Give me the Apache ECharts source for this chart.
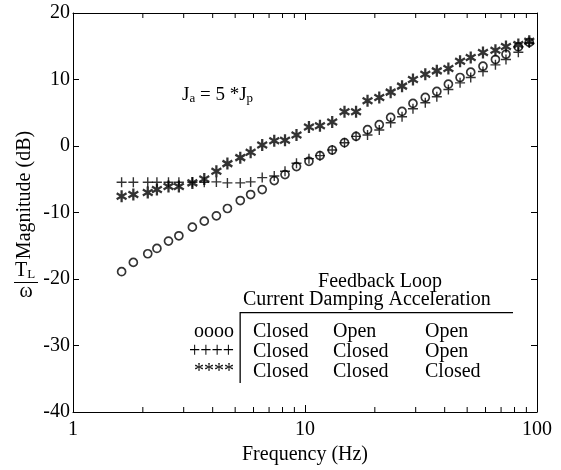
<!DOCTYPE html>
<html>
<head>
<meta charset="utf-8">
<script src="https://cdn.jsdelivr.net/npm/echarts@6/dist/echarts.min.js"></script>
<style>
html,body{margin:0;padding:0;background:#fff;}
#chart{width:561px;height:470px;}
</style>
</head>
<body>
<div id="chart"></div>
<script>
// Frequencies (Hz) shared by all three measured curves
const freq = [1.62, 1.82, 2.1, 2.3, 2.58, 2.86, 3.27, 3.68, 4.15, 4.63, 5.26, 5.83, 6.54, 7.37, 8.2, 9.19, 10.4, 11.6, 13.1, 14.8, 16.6, 18.6, 20.9, 23.4, 26.2, 29.2, 33, 37, 41.5, 46.6, 51.8, 58.5, 66.2, 73.5, 83.1, 92.6];
// oooo : Current closed, Damping open, Acceleration open
const magCircle = [-18.9, -17.5, -16.2, -15.4, -14.3, -13.5, -12.2, -11.3, -10.5, -9.4, -8.2, -7.3, -6.55, -5.2, -4.3, -3.1, -2.3, -1.45, -0.6, 0.5, 1.45, 2.45, 3.2, 4.3, 5.2, 6.4, 7.3, 8.2, 9.3, 10.3, 11.1, 12.0, 13.0, 13.8, 14.9, 15.6];
// ++++ : Current closed, Damping closed, Acceleration open
const magPlus = [-5.45, -5.45, -5.45, -5.45, -5.45, -5.45, -5.45, -5.45, -5.4, -5.55, -5.55, -5.4, -4.75, -4.5, -3.8, -2.6, -1.9, -1.45, -0.6, 0.5, 1.45, 1.65, 2.4, 3.5, 4.4, 5.6, 6.5, 7.4, 8.5, 9.5, 10.3, 11.2, 12.2, 13.0, 14.1, 15.5];
// **** : all closed
const magStar = [-7.55, -7.3, -7.0, -6.55, -6.1, -6.1, -5.55, -4.95, -3.8, -2.65, -1.75, -0.95, 0.15, 0.8, 0.87, 1.65, 2.85, 3.05, 3.6, 5.15, 5.15, 6.8, 7.3, 8.1, 9.0, 10.0, 10.8, 11.3, 11.65, 12.75, 13.3, 14.05, 14.4, 14.95, 15.25, 15.75];
// Axis ticks
const xMinorTicks = [2, 3, 4, 5, 6, 7, 8, 9, 20, 30, 40, 50, 60, 70, 80, 90];
// Texts
const tableHead1 = 'Feedback Loop';
const tableHead2 = 'Current Damping Acceleration';
const tableMarks = ['oooo', '++++', '****'];
const tableRows = [['Closed', 'Open', 'Open'], ['Closed', 'Closed', 'Open'], ['Closed', 'Closed', 'Closed']];

const FONT = 'Liberation Serif';
const pairs = (ys) => freq.map((f, i) => [f, ys[i]]);

const plusPath = 'path://M43 0L57 0L57 43L100 43L100 57L57 57L57 100L43 100L43 57L0 57L0 43L43 43Z';
const starPath = 'path://M40 0L60 0L60 100L40 100Z M1.7 33.66L11.7 16.34L98.3 66.34L88.3 83.66Z M11.7 83.66L1.7 66.34L88.3 16.34L98.3 33.66Z';

const chart = echarts.init(document.getElementById('chart'), null, {renderer: 'canvas'});

const axisCommon = {
  type: 'log', logBase: 10, min: 1, max: 100,
  axisLine: {show: true, onZero: false, lineStyle: {color: '#000', width: 1}},
  axisTick: {show: true, inside: true, length: 7, lineStyle: {color: '#000'}},
  splitLine: {show: false}, minorTick: {show: false}
};
const yCommon = {
  type: 'value', min: -40, max: 20, interval: 10,
  axisLine: {show: true, onZero: false, lineStyle: {color: '#000', width: 1}},
  axisTick: {show: true, inside: true, length: 6, lineStyle: {color: '#000'}},
  splitLine: {show: false}
};
const txt = (text, x, y, align, extra) => Object.assign({
  type: 'text', x: x, y: y,
  style: {text: text, font: '20px "' + FONT + '"', fill: '#000', align: align, verticalAlign: 'middle'}
}, extra || {});

const graphics = [
  txt('Magnitude (dB)', 25, 195, 'center', {rotation: Math.PI / 2}),
  {type: 'text', x: 25, y: 271,
    style: {text: '{n|T}{s|L}', fill: '#000', align: 'center', verticalAlign: 'middle',
      rich: {n: {fontSize: 20, fontFamily: FONT, lineHeight: 20, verticalAlign: 'middle'},
             s: {fontSize: 13, fontFamily: FONT, lineHeight: 13, verticalAlign: 'bottom'}}}},
  {type: 'rect', shape: {x: 14, y: 282, width: 24, height: 1}, style: {fill: '#000'}},
  txt('ω', 26, 292, 'center'),
  {type: 'text', x: 182, y: 95,
    style: {text: '{n|J}{s|a}{n| = 5 *J}{s|p}', fill: '#000', align: 'left', verticalAlign: 'middle',
      rich: {n: {fontSize: 19, fontFamily: FONT, lineHeight: 20, verticalAlign: 'middle'},
             s: {fontSize: 13, fontFamily: FONT, lineHeight: 13, verticalAlign: 'bottom'}}}},
  txt(tableHead1, 380, 282, 'center'),
  txt(tableHead2, 243, 300, 'left'),
  {type: 'rect', shape: {x: 240, y: 312, width: 273, height: 1.3}, style: {fill: '#000'}},
  {type: 'rect', shape: {x: 239.5, y: 312, width: 1.3, height: 71}, style: {fill: '#000'}}
];
tableMarks.forEach((m, i) => graphics.push(txt(m, 234, 332 + 20 * i, 'right')));
tableRows.forEach((row, i) => row.forEach((t, j) => graphics.push(txt(t, [253, 333, 425][j], 332 + 20 * i, 'left'))));

const option = {
  animation: false,
  backgroundColor: '#fff',
  grid: {left: 73, right: 24, top: 13, bottom: 56, containLabel: false},
  xAxis: [
    Object.assign({}, axisCommon, {
      position: 'bottom',
      axisLabel: {color: '#000', fontSize: 20, fontFamily: FONT, margin: 8},
      name: 'Frequency (Hz)', nameLocation: 'middle', nameGap: 33,
      nameTextStyle: {color: '#000', fontSize: 20, fontFamily: FONT}
    }),
    Object.assign({}, axisCommon, {position: 'top', axisLabel: {show: false}})
  ],
  yAxis: [
    Object.assign({}, yCommon, {
      position: 'left',
      axisLabel: {color: '#000', fontSize: 20, fontFamily: FONT, margin: 3}
    }),
    Object.assign({}, yCommon, {position: 'right', axisLabel: {show: false}})
  ],
  graphic: graphics,
  series: [
    {
      type: 'custom', xAxisIndex: 0, yAxisIndex: 0, silent: true, clip: false,
      data: xMinorTicks.map(v => [v, 0]),
      renderItem: function (params, api) {
        const v = api.value(0);
        const b = api.coord([v, -40]);
        const t = api.coord([v, 20]);
        return {type: 'group', children: [
          {type: 'line', shape: {x1: b[0], y1: b[1], x2: b[0], y2: b[1] - 5}, style: {stroke: '#000', lineWidth: 1}},
          {type: 'line', shape: {x1: t[0], y1: t[1], x2: t[0], y2: t[1] + 5}, style: {stroke: '#000', lineWidth: 1}}
        ]};
      }
    },
    {
      name: 'oooo', type: 'scatter', data: pairs(magCircle),
      symbol: 'circle', symbolSize: 8,
      itemStyle: {color: 'rgba(0,0,0,0)', borderColor: '#000', borderWidth: 1.7}
    },
    {
      name: '++++', type: 'scatter', data: pairs(magPlus),
      symbol: plusPath, symbolSize: 10,
      itemStyle: {color: '#000'}
    },
    {
      name: '****', type: 'scatter', data: pairs(magStar),
      symbol: starPath, symbolSize: [11, 12],
      itemStyle: {color: '#000'}
    }
  ]
};
chart.setOption(option);
</script>
</body>
</html>
